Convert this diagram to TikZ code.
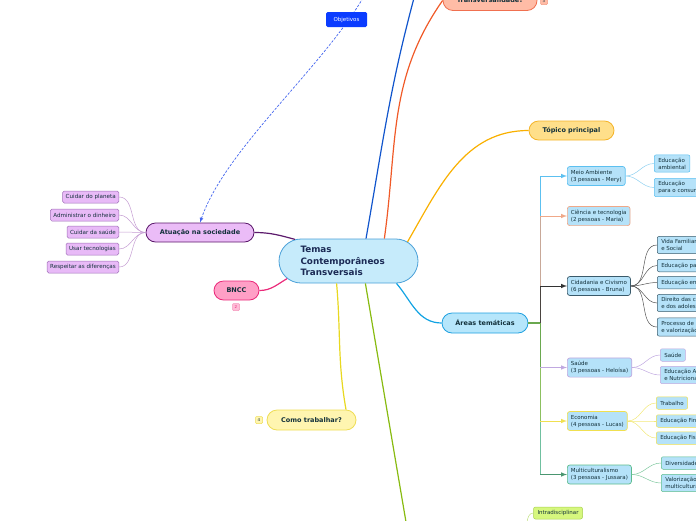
\documentclass[tikz,border=0pt]{standalone}
\usepackage{fontspec}
\setmainfont{DejaVu Sans}
\usepackage{tikz}
\usetikzlibrary{shapes.misc}

\definecolor{ink}{HTML}{12303A}
\definecolor{navy}{HTML}{1B2A55}
\definecolor{tctfill}{HTML}{C6EBFB}
\definecolor{tctdraw}{HTML}{4AA0D8}
\definecolor{atuafill}{HTML}{EBBCF7}
\definecolor{atuadraw}{HTML}{5C1A6C}
\definecolor{leaffill}{HTML}{E8BAF7}
\definecolor{leafdraw}{HTML}{A070B8}
\definecolor{leafline}{HTML}{C49CD2}
\definecolor{objfill}{HTML}{0B3CFF}
\definecolor{objline}{HTML}{4466EE}
\definecolor{bnccfill}{HTML}{FF9FC6}
\definecolor{bnccdraw}{HTML}{EA2A7A}
\definecolor{comofill}{HTML}{FFF5B0}
\definecolor{comodraw}{HTML}{EEDD55}
\definecolor{comoline}{HTML}{E8D820}
\definecolor{greenline}{HTML}{88BB11}
\definecolor{blueline}{HTML}{1155CC}
\definecolor{transfill}{HTML}{FFBCA6}
\definecolor{transdraw}{HTML}{F07050}
\definecolor{transline}{HTML}{F05A28}
\definecolor{topfill}{HTML}{FFDF8A}
\definecolor{topdraw}{HTML}{F4B42A}
\definecolor{topline}{HTML}{F9B000}
\definecolor{areasfill}{HTML}{B6E6FB}
\definecolor{areasdraw}{HTML}{1EA0E0}
\definecolor{areasline}{HTML}{12A3E3}
\definecolor{subfill}{HTML}{B5E2F9}
\definecolor{meiodraw}{HTML}{5CC0F0}
\definecolor{meioline}{HTML}{8ED0F0}
\definecolor{cienciadraw}{HTML}{F0A888}
\definecolor{cienciatrunk}{HTML}{C8A898}
\definecolor{cidadraw}{HTML}{3A5A6A}
\definecolor{cidaline}{HTML}{555555}
\definecolor{cidatrunk}{HTML}{4A4440}
\definecolor{saudedraw}{HTML}{C0A8E0}
\definecolor{ecodraw}{HTML}{F0E050}
\definecolor{ecoline}{HTML}{F2E878}
\definecolor{multidraw}{HTML}{5CBC8C}
\definecolor{multiline}{HTML}{80C8A0}
\definecolor{forkgreen}{HTML}{6AA84F}
\definecolor{ecotrunk}{HTML}{8CC060}
\definecolor{multitrunk}{HTML}{70C0A0}
\definecolor{intrafill}{HTML}{D6F77E}
\definecolor{intradraw}{HTML}{A8D050}
\definecolor{intraline}{HTML}{C0E080}

\begin{document}
\begin{tikzpicture}[x=1pt, y=1pt,
    pill/.style={rounded rectangle, draw, line width=0.8pt, inner xsep=0pt, inner ysep=0pt,
      text=ink, font=\fontsize{6.5}{8}\selectfont\bfseries},
    leaf/.style={rectangle, rounded corners=1.5pt, draw=leafdraw, fill=leaffill, line width=0.5pt,
      font=\fontsize{5.6}{6.5}\selectfont, text=ink, minimum height=12pt, inner xsep=3pt, inner ysep=1pt, anchor=east},
    area/.style={rectangle, rounded corners=2.5pt, fill=subfill, line width=0.7pt, align=left,
      font=\fontsize{5.5}{7}\selectfont, text=ink, minimum height=19pt, inner xsep=3.5pt, anchor=west},
    sub/.style={rectangle, rounded corners=2pt, draw, fill=subfill, line width=0.5pt, align=left,
      font=\fontsize{5.5}{7}\selectfont, text=ink, minimum height=12.5pt, inner xsep=4pt, inner ysep=3pt, anchor=west},
    badge/.style={rectangle, rounded corners=1pt, draw, line width=0.5pt, font=\fontsize{4}{4}\selectfont,
      inner sep=0pt, minimum size=7pt},
    link/.style={line width=1.2pt},
    branch/.style={line width=1pt},
    twig/.style={line width=0.5pt},
  ]
    \useasboundingbox (0,-520) rectangle (696,0);
    \clip (0,-520) rectangle (696,0);

    % central topic
    \node[rounded rectangle, draw=tctdraw, fill=tctfill, line width=0.8pt, minimum width=135pt, minimum height=44pt,
      inner xsep=-2pt, text width=96pt, align=left, text=navy, font=\fontsize{8.8}{11.5}\selectfont\bfseries]
      (tct) at (348.5,-261) {Temas\\Contemporâneos\\Transversais};

    % main topics
    \node[pill, draw=atuadraw, fill=atuafill, minimum width=108pt, minimum height=19pt] (atuacao) at (200,-232.5) {Atuação na sociedade};
    \node[pill, draw=bnccdraw, fill=bnccfill, minimum width=45pt, minimum height=19pt] (bncc) at (236.5,-290.5) {BNCC};
    \node[pill, draw=comodraw, fill=comofill, minimum width=89pt, minimum height=20pt] (como) at (311.5,-420) {Como trabalhar?};
    \node[pill, draw=transdraw, fill=transfill, minimum width=94pt, minimum height=20pt] (transv) at (490,-0.5) {Transversalidade?};
    \node[pill, draw=topdraw, fill=topfill, minimum width=85pt, minimum height=19pt] (topico) at (571.5,-130.5) {Tópico principal};
    \node[pill, draw=areasdraw, fill=areasfill, minimum width=86pt, minimum height=20pt] (areas) at (485,-323) {Áreas temáticas};

    % badges
    \node[badge, draw=bnccdraw!50, fill=bnccfill!70, text=bnccdraw] (b2) at (236,-307) {2};
    \node[badge, draw=comodraw, fill=comofill, text=ink] (b4) at (259,-420) {4};
    \node[badge, draw=transdraw!70, fill=transfill, text=ink] (b3) at (544,-1) {3};

    % Atuacao na sociedade
    \node[leaf] (planeta) at (119,-197) {Cuidar do planeta};
    \node[leaf] (dinheiro) at (119,-215) {Administrar o dinheiro};
    \node[leaf] (saudeL) at (119,-232) {Cuidar da saúde};
    \node[leaf] (tecno) at (119,-249) {Usar tecnologias};
    \node[leaf] (diferencas) at (119,-267) {Respeitar as diferenças};

    % areas tematicas
    \node[area, draw=meiodraw] (meio) at (567,-176) {Meio Ambiente\\(3 pessoas - Mery)};
    \node[area, draw=cienciadraw] (ciencia) at (567,-216) {Ciência e tecnologia\\(2 pessoas - Maria)};
    \node[area, draw=cidadraw] (cidadania) at (567,-286) {Cidadania e Civismo\\(6 pessoas - Bruna)};
    \node[area, draw=saudedraw] (saude) at (567,-367.5) {Saúde\\(3 pessoas - Heloísa)};
    \node[area, draw=ecodraw] (economia) at (567,-421) {Economia\\(4 pessoas - Lucas)};
    \node[area, draw=multidraw] (multi) at (567,-474.5) {Multiculturalismo\\(3 pessoas - Jussara)};

    \node[sub, draw=meiodraw] (edamb) at (654,-163.5) {Educação\\ambiental};
    \node[sub, draw=meiodraw] (edcons) at (654,-187.5) {Educação\\para o consumo};

    \node[sub, draw=cidadraw] (vida) at (657,-245) {Vida Familiar\\e Social};
    \node[sub, draw=cidadraw] (transito) at (657,-265.5) {Educação para o trânsito};
    \node[sub, draw=cidadraw] (direitos) at (657,-282.5) {Educação em direitos humanos};
    \node[sub, draw=cidadraw] (criancas) at (657,-303) {Direito das crianças\\e dos adolescentes};
    \node[sub, draw=cidadraw] (idoso) at (657,-327) {Processo de envelhecimento, respeito\\e valorização do idoso};

    \node[sub, draw=saudedraw] (saudeS) at (660,-355) {Saúde};
    \node[sub, draw=saudedraw] (alim) at (660,-375) {Educação Alimentar\\e Nutricional};

    \node[sub, draw=ecodraw] (trabalho) at (656,-403) {Trabalho};
    \node[sub, draw=ecodraw] (financ) at (656,-421) {Educação Financeira};
    \node[sub, draw=ecodraw] (fiscal) at (656,-438) {Educação Fiscal};

    \node[sub, draw=multidraw] (divers) at (661,-463) {Diversidade Cultural};
    \node[sub, draw=multidraw] (valor) at (661,-483) {Valorização do\\multiculturalismo nas matrizes históricas e culturais brasileiras};

    \node[sub, draw=intradraw, fill=intrafill, anchor=center, minimum height=12pt, inner ysep=1pt] (intra) at (558,-513) {Intradisciplinar};

    % free ends
    \coordinate (topfree) at (363,2);
    \coordinate (bup) at (414,2);
    \coordinate (gdown) at (406,-522);
    \coordinate (intrafree) at (527,-522);

    % main connectors
    \draw[link, atuadraw] (tct.158) to[out=165,in=0] (atuacao.east);
    \draw[link, bnccdraw] (tct.196) to[out=210,in=0] (bncc.east);
    \draw[link, comoline] (tct.242) to[out=-85,in=100] (como.north east);
    \draw[link, greenline] (tct.307) -- (gdown);
    \draw[link, blueline] (tct.52) to[out=80,in=-105] (bup);
    \draw[link, transline] (tct.32) to[out=82,in=235] (transv.west);
    \draw[link, topline] (tct.18) to[out=60,in=180] (topico.west);
    \draw[link, areasline] (tct.335) to[out=-50,in=180] (areas.west);

    \foreach \leaf in {planeta, dinheiro, saudeL, tecno, diferencas}
        \draw[twig, leafline] (atuacao.west) to[out=180,in=0] (\leaf.east);

    % elbow branches of the areas
    \path (areas.east) ++(12,0) coordinate (fork);
    \draw[branch, meiodraw] (fork) -- (fork |- meio.west);
    \draw[branch, cienciatrunk] (fork) -- (fork |- ciencia.west);
    \draw[branch, cidatrunk] (fork) -- (fork |- cidadania.west);
    \draw[branch, multitrunk] (fork) -- (fork |- multi.west);
    \draw[branch, ecotrunk] (fork) -- (fork |- economia.west);
    \draw[branch, forkgreen] (fork) -- (fork |- saude.west);
    \draw[branch, meiodraw, -latex] (fork |- meio.west) -- (meio.west);
    \draw[branch, cienciadraw, -latex] (fork |- ciencia.west) -- (ciencia.west);
    \draw[branch, cidaline!60!black, -latex] (fork |- cidadania.west) -- (cidadania.west);
    \draw[branch, saudedraw, -latex] (fork |- saude.west) -- (saude.west);
    \draw[branch, ecodraw, -latex] (fork |- economia.west) -- (economia.west);
    \draw[branch, multidraw!80!black, -latex] (fork |- multi.west) -- (multi.west);
    \draw[branch, forkgreen, line width=1.4pt] (areas.east) -- (fork);

    \foreach \gc in {edamb, edcons}
        \draw[twig, meioline] (meio.east) to[out=0,in=180] (\gc.west);
    \foreach \gc in {vida, transito, direitos, criancas, idoso}
        \draw[twig, cidaline] (cidadania.east) to[out=0,in=180] (\gc.west);
    \foreach \gc in {saudeS, alim}
        \draw[twig, saudedraw] (saude.east) to[out=0,in=180] (\gc.west);
    \foreach \gc in {trabalho, financ, fiscal}
        \draw[twig, ecoline] (economia.east) to[out=0,in=180] (\gc.west);
    \foreach \gc in {divers, valor}
        \draw[twig, multiline] (multi.east) to[out=0,in=180] (\gc.west);
    \draw[twig, intraline] (intrafree) to[out=80,in=180] (intra.west);

    % objetivos, dashed relation
    \draw[objline, line width=0.7pt, dash pattern=on 2.5pt off 1.5pt, -latex] (topfree) .. controls (320,-70) and (225,-150) .. (atuacao.north);
    \node[rectangle, rounded corners=1.5pt, fill=objfill, text=white, font=\fontsize{5.5}{6}\selectfont,
      minimum width=41pt, minimum height=15pt] (objetivos) at (346.5,-19.5) {Objetivos};
\end{tikzpicture}
\end{document}
